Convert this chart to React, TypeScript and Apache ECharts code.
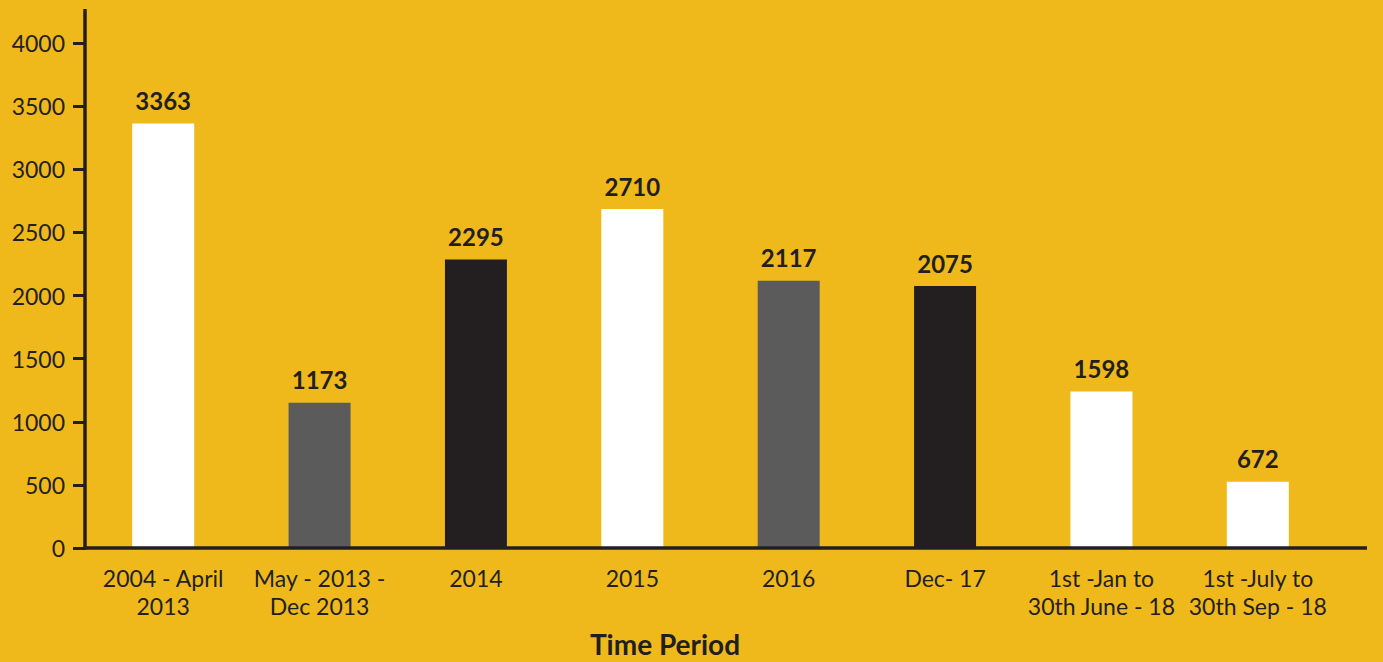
import React, { useEffect, useRef } from "react";
import * as echarts from "echarts";

const categories = [
  "2004 - April\n2013",
  "May - 2013 -\nDec 2013",
  "2014",
  "2015",
  "2016",
  "Dec- 17",
  "1st -Jan to\n30th June - 18",
  "1st -July to\n30th Sep - 18",
];
// bar heights as drawn in the picture
const barHeights = [3363, 1150, 2285, 2685, 2117, 2075, 1240, 525];
// value labels printed above the bars
const valueLabels = [3363, 1173, 2295, 2710, 2117, 2075, 1598, 672];
const barColors = ["#FFFFFF", "#5B5B5B", "#231F20", "#FFFFFF", "#5B5B5B", "#231F20", "#FFFFFF", "#FFFFFF"];
const yTicks = [0, 500, 1000, 1500, 2000, 2500, 3000, 3500, 4000];
const xAxisTitle = "Time Period";

const BG = "#F0B91B";
const INK = "#231F20";
const FONT = "Lato, 'Open Sans', sans-serif";

export default function App() {
  const ref = useRef<HTMLDivElement>(null);
  useEffect(() => {
    if (!ref.current) return;
    const chart = echarts.init(ref.current, null, { renderer: "svg" });
    chart.setOption({
      animation: false,
      backgroundColor: BG,
      grid: { left: 85, right: 47, top: 43, bottom: 114, containLabel: false },
      xAxis: {
        type: "category",
        data: categories,
        axisLine: { show: false },
        axisTick: { show: false },
        axisLabel: {
          color: INK,
          fontFamily: FONT,
          fontSize: 23,
          lineHeight: 28,
          margin: 16,
          interval: 0,
        },
      },
      yAxis: {
        type: "value",
        min: yTicks[0],
        max: yTicks[yTicks.length - 1],
        interval: 500,
        splitLine: { show: false },
        axisLine: { show: false },
        axisTick: { show: true, length: 12, lineStyle: { color: INK, width: 3 } },
        axisLabel: {
          color: INK,
          fontFamily: FONT,
          fontSize: 23,
          margin: 20,
          formatter: (v: number) => String(v),
        },
      },
      series: [
        {
          type: "bar",
          barWidth: 62,
          data: barHeights.map((v, i) => ({
            value: v,
            itemStyle: { color: barColors[i] },
          })),
          label: {
            show: true,
            position: "top",
            distance: 11,
            color: INK,
            fontFamily: FONT,
            fontWeight: "bold",
            fontSize: 24,
            formatter: (p: any) => String(valueLabels[p.dataIndex]),
          },
        },
      ],
      graphic: [
        {
          type: "line",
          z: 100,
          shape: { x1: 85, y1: 9, x2: 85, y2: 549.5 },
          style: { stroke: INK, lineWidth: 3.5 },
        },
        {
          type: "line",
          z: 100,
          shape: { x1: 84, y1: 548, x2: 1367, y2: 548 },
          style: { stroke: INK, lineWidth: 3.5 },
        },
        {
          type: "text",
          x: 665,
          y: 644,
          style: {
            text: xAxisTitle,
            fill: INK,
            font: `bold 28px ${FONT}`,
            textAlign: "center",
            textVerticalAlign: "middle",
          },
        },
      ],
    });
    return () => chart.dispose();
  }, []);
  return (
    <div
      ref={ref}
      style={{ position: "fixed", left: 0, top: 0, width: 1383, height: 662 }}
    />
  );
}
